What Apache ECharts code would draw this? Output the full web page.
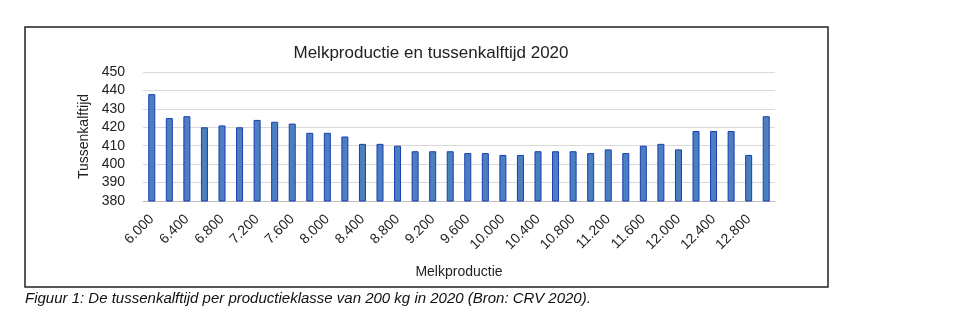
<!DOCTYPE html>
<html>
<head>
<meta charset="utf-8">
<script src="https://cdn.jsdelivr.net/npm/echarts@6/dist/echarts.min.js"></script>
<style>
html,body{margin:0;padding:0;background:#fff;}
#c{width:978px;height:330px;}
</style>
</head>
<body>
<div id="c"></div>
<script>
const categories = ['6.000','6.200','6.400','6.600','6.800','7.000','7.200','7.400','7.600','7.800',
  '8.000','8.200','8.400','8.600','8.800','9.000','9.200','9.400','9.600','9.800',
  '10.000','10.200','10.400','10.600','10.800','11.000','11.200','11.400','11.600','11.800',
  '12.000','12.200','12.400','12.600','12.800','13.000'];
const tussenkalftijd = [438,425,426,420,421,420,424,423,422,417,
  417,415,411,411,410,407,407,407,406,406,
  405,405,407,407,407,406,408,406,410,411,
  408,418,418,418,405,426];
const yTicks = {min:380, max:450, interval:10};
const titleText = 'Melkproductie en tussenkalftijd 2020';
const xName = 'Melkproductie';
const yName = 'Tussenkalftijd';
const caption = 'Figuur 1: De tussenkalftijd per productieklasse van 200 kg in 2020 (Bron: CRV 2020).';

const font = '"Liberation Sans", Arial, sans-serif';
const chart = echarts.init(document.getElementById('c'));
chart.setOption({
  animation:false,
  backgroundColor:'#ffffff',
  title:{text:titleText,left:426,top:40,textAlign:'center',
    textStyle:{fontFamily:font,fontSize:17,fontWeight:'normal',color:'#222'}},
  grid:{left:143,right:203,top:72,bottom:129,containLabel:false},
  xAxis:{type:'category',data:categories,
    name:xName,nameLocation:'middle',nameGap:64,
    nameTextStyle:{fontFamily:font,fontSize:14,color:'#222'},
    axisLine:{lineStyle:{color:'#bfbfbf'}},axisTick:{show:false},
    axisLabel:{interval:1,rotate:45,margin:16,fontFamily:font,fontSize:14,color:'#222'}},
  yAxis:{type:'value',min:yTicks.min,max:yTicks.max,interval:yTicks.interval,
    name:yName,nameLocation:'middle',nameGap:47,nameRotate:90,
    nameTextStyle:{fontFamily:font,fontSize:14,color:'#222'},
    axisLine:{show:false},axisTick:{show:false},
    axisLabel:{margin:18,fontFamily:font,fontSize:14,color:'#222'},
    splitLine:{lineStyle:{color:'#d9d9d9'}}},
  series:[{type:'bar',data:tussenkalftijd,barWidth:7,
    itemStyle:{color:'#4b7fc0',borderColor:'#1a3db0',borderWidth:1}}],
  graphic:[
    {type:'rect',shape:{x:25,y:27,width:803,height:260},
      style:{fill:'none',stroke:'#222',lineWidth:1.5},silent:true,z:-1},
    {type:'text',left:25,top:291,
      style:{text:caption,font:'italic 15px "Liberation Sans", Arial, sans-serif',fill:'#111'}}
  ]
});
</script>
</body>
</html>
